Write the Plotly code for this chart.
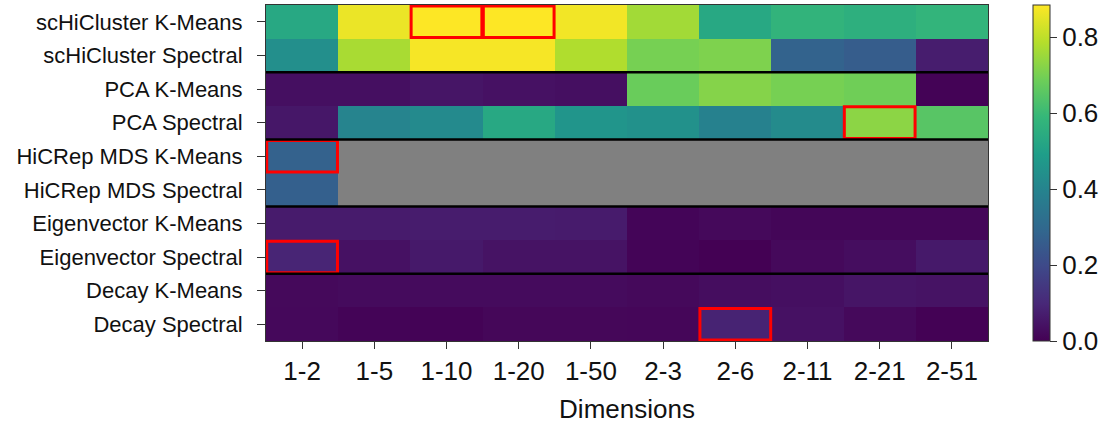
import numpy as np
import plotly.graph_objects as go

dims = ["1-2", "1-5", "1-10", "1-20", "1-50", "2-3", "2-6", "2-11", "2-21", "2-51"]
methods = ["scHiCluster K-Means", "scHiCluster Spectral", "PCA K-Means", "PCA Spectral",
           "HiCRep MDS K-Means", "HiCRep MDS Spectral", "Eigenvector K-Means",
           "Eigenvector Spectral", "Decay K-Means", "Decay Spectral"]
N = None
schic_km = [0.53, 0.86, 0.885, 0.885, 0.87, 0.76, 0.53, 0.575, 0.56, 0.58]
schic_sp = [0.44, 0.77, 0.875, 0.875, 0.78, 0.70, 0.71, 0.28, 0.26, 0.07]
pca_km = [0.035, 0.035, 0.05, 0.04, 0.035, 0.68, 0.72, 0.70, 0.69, 0.005]
pca_sp = [0.055, 0.40, 0.42, 0.53, 0.46, 0.445, 0.39, 0.425, 0.73, 0.65]
hicrep_km = [0.275, N, N, N, N, N, N, N, N, N]
hicrep_sp = [0.27, N, N, N, N, N, N, N, N, N]
eig_km = [0.065, 0.065, 0.068, 0.068, 0.065, 0.01, 0.02, 0.012, 0.012, 0.012]
eig_sp = [0.09, 0.04, 0.06, 0.045, 0.045, 0.008, 0.0, 0.02, 0.03, 0.06]
decay_km = [0.02, 0.025, 0.025, 0.025, 0.025, 0.02, 0.03, 0.035, 0.05, 0.045]
decay_sp = [0.018, 0.008, 0.005, 0.015, 0.015, 0.013, 0.085, 0.04, 0.02, 0.002]

rows = [schic_km, schic_sp, pca_km, pca_sp, hicrep_km, hicrep_sp,
        eig_km, eig_sp, decay_km, decay_sp]
z = np.array([[np.nan if v is None else v for v in r] for r in rows], dtype=float)

# highlighted cells (row index, column index)
highlights = [(0, 2), (0, 3), (3, 8), (4, 0), (7, 0), (9, 6)]
# group separators after these row counts
separators = [2, 4, 6, 8]

font = "Liberation Sans, Arial, Helvetica, sans-serif"

fig = go.Figure(go.Heatmap(
    z=z, x=list(range(len(dims))), y=list(range(len(methods))),
    colorscale="Viridis", zmin=0, zmax=0.885,
    xgap=0, ygap=0,
    colorbar=dict(
        x=1.062, xanchor="left", xref="paper", xpad=0, ypad=0,
        y=0.5, yanchor="middle", len=1.0,
        thickness=17, outlinewidth=1, outlinecolor="#333",
        tickvals=[0, 0.2, 0.4, 0.6, 0.8], ticktext=["0.0", "0.2", "0.4", "0.6", "0.8"],
        ticks="outside", ticklen=7, tickcolor="#333",
        tickfont=dict(size=26, color="#111", family=font),
    ),
))

shapes = []
for r, c in highlights:
    shapes.append(dict(type="rect", xref="x", yref="y",
                       x0=c - 0.49, x1=c + 0.49, y0=r - 0.47, y1=r + 0.47,
                       line=dict(color="#ff0000", width=3), fillcolor="rgba(0,0,0,0)"))
for s in separators:
    shapes.append(dict(type="line", xref="x", yref="y",
                       x0=-0.5, x1=len(dims) - 0.5, y0=s - 0.5, y1=s - 0.5,
                       line=dict(color="black", width=2.5)))
fig.update_layout(shapes=shapes)

fig.update_xaxes(
    range=[-0.5, len(dims) - 0.5], tickvals=list(range(len(dims))), ticktext=dims,
    ticks="outside", ticklen=7, tickcolor="#333", showgrid=False, zeroline=False,
    showline=True, linecolor="#333", linewidth=1, mirror=True,
    tickfont=dict(size=26, color="#111", family=font),
    title=dict(text="Dimensions", font=dict(size=26, color="#111", family=font), standoff=14),
)
fig.update_yaxes(
    range=[len(methods) - 0.5, -0.5], tickvals=list(range(len(methods))), ticktext=methods,
    ticks="outside", ticklen=8, tickcolor="#333", showgrid=False, zeroline=False,
    showline=True, linecolor="#333", linewidth=1, mirror=True,
    ticklabelstandoff=10,
    tickfont=dict(size=22, color="#111", family=font),
)
fig.update_layout(
    width=1120, height=428,
    margin=dict(l=266, r=132, t=5, b=87),
    plot_bgcolor="#808080", paper_bgcolor="white",
    font=dict(family=font),
)
fig.write_html("out.html")
